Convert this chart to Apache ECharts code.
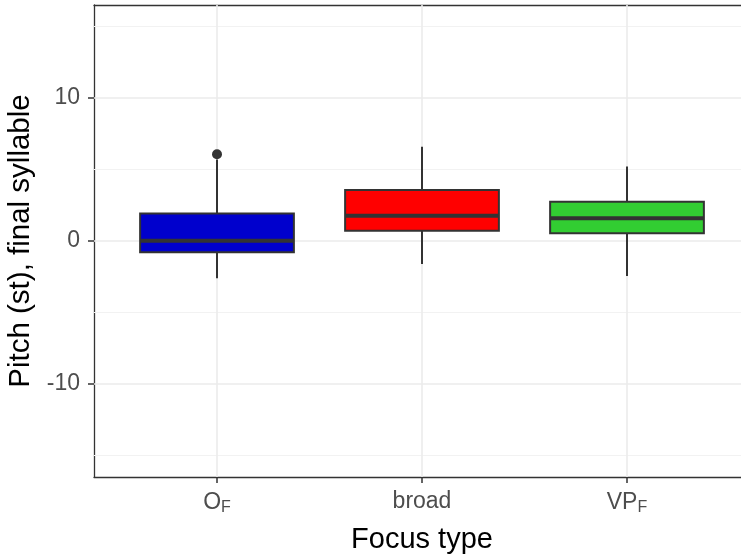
<!DOCTYPE html>
<html>
<head>
<meta charset="utf-8">
<script src="https://cdn.jsdelivr.net/npm/echarts@6/dist/echarts.min.js"></script>
<style>html,body{margin:0;padding:0;background:#fff;}#c{width:741px;height:558px;}</style>
</head>
<body>
<div id="c"></div>
<script>
// ---- data ----
const categories = ['O_F', 'broad', 'VP_F'];
const whiskerLow = [-2.6, -1.6, -2.45];
const q1 = [-0.79, 0.72, 0.54];
const median = [0.02, 1.77, 1.59];
const q3 = [1.92, 3.57, 2.75];
const whiskerHigh = [5.7, 6.59, 5.2];
const boxColors = ['#0000cd', '#ff0000', '#32cd32'];
const outliers = [[1, 6.06]];
const yTicks = [-10, 0, 10];
const yMinor = [-15, -5, 5, 15];
const xTicks = [1, 2, 3];

const boxData = categories.map((c, i) => [i + 1, whiskerLow[i], q1[i], median[i], q3[i], whiskerHigh[i], i]);

const FONT = 'Liberation Sans';
const labelRich = {
  n: { fontSize: 23, color: '#4d4d4d', fontFamily: FONT },
  s: { fontSize: 16, color: '#4d4d4d', fontFamily: FONT, verticalAlign: 'bottom', padding: [10, 0, 0, 0] }
};
function fmtCat(v) {
  const name = categories[Math.round(v) - 1];
  if (!name) return '';
  const parts = name.split('_');
  if (parts.length === 2) return '{n|' + parts[0] + '}{s|' + parts[1] + '}';
  return '{n|' + name + '}';
}

const axisLineStyle = { color: '#333', width: 1.3 };
const chart = echarts.init(document.getElementById('c'), null, { renderer: 'canvas' });
chart.setOption({
  animation: false,
  backgroundColor: '#fff',
  grid: { left: 94, top: 5, width: 656, height: 472, show: false, outerBoundsMode: 'none', containLabel: false },
  xAxis: [{
    type: 'value', min: 0.4, max: 3.6, position: 'bottom',
    name: 'Focus type', nameLocation: 'middle', nameGap: 48,
    nameTextStyle: { fontSize: 29, color: '#000', fontFamily: FONT },
    axisLine: { show: true, onZero: false, lineStyle: axisLineStyle },
    splitLine: { show: false },
    axisTick: { show: true, customValues: xTicks, length: 6, lineStyle: { color: '#333', width: 1.5 } },
    axisLabel: { customValues: xTicks, formatter: fmtCat, rich: labelRich, margin: 13 }
  }, {
    type: 'value', min: 0.4, max: 3.6, position: 'top',
    axisLine: { show: true, onZero: false, lineStyle: axisLineStyle },
    axisTick: { show: false }, axisLabel: { show: false }, splitLine: { show: false }
  }],
  yAxis: {
    type: 'value', min: -16.5, max: 16.5,
    name: 'Pitch (st), final syllable', nameLocation: 'middle', nameGap: 54,
    nameTextStyle: { fontSize: 29.5, color: '#000', fontFamily: FONT },
    axisLine: { show: true, onZero: false, lineStyle: axisLineStyle },
    splitLine: { show: false },
    axisTick: { show: true, customValues: yTicks, length: 6, lineStyle: { color: '#333', width: 1.5 } },
    axisLabel: { customValues: yTicks, fontSize: 23, color: '#4d4d4d', fontFamily: FONT, margin: 14 }
  },
  series: [
    {
      type: 'line', data: [], z: 1, silent: true,
      markLine: {
        z: 1, silent: true, symbol: 'none', animation: false, label: { show: false },
        data: [
          ...yMinor.map(v => ({ yAxis: v, lineStyle: { color: '#f2f2f2', width: 1, type: 'solid' } })),
          ...yTicks.map(v => ({ yAxis: v, lineStyle: { color: '#ebebeb', width: 1.6, type: 'solid' } })),
          ...xTicks.map(v => ({ xAxis: v, lineStyle: { color: '#ebebeb', width: 1.6, type: 'solid' } }))
        ]
      }
    },
    {
      type: 'custom', z: 10,
      data: boxData,
      encode: { x: 0, y: [1, 2, 3, 4, 5] },
      renderItem: function (params, api) {
        const x = api.value(0);
        const lo = api.coord([x, api.value(1)]);
        const b1 = api.coord([x, api.value(2)]);
        const md = api.coord([x, api.value(3)]);
        const b3 = api.coord([x, api.value(4)]);
        const hi = api.coord([x, api.value(5)]);
        const w = api.size([0.75, 0])[0];
        const idx = api.value(6);
        const line = { stroke: '#333', lineWidth: 2 };
        return {
          type: 'group',
          children: [
            { type: 'line', shape: { x1: hi[0], y1: hi[1], x2: b3[0], y2: b3[1] }, style: line },
            { type: 'line', shape: { x1: lo[0], y1: lo[1], x2: b1[0], y2: b1[1] }, style: line },
            { type: 'rect', shape: { x: b3[0] - w / 2, y: b3[1], width: w, height: b1[1] - b3[1] }, style: { fill: boxColors[idx], stroke: '#333', lineWidth: 2 } },
            { type: 'line', shape: { x1: md[0] - w / 2, y1: md[1], x2: md[0] + w / 2, y2: md[1] }, style: { stroke: '#333', lineWidth: 4 } }
          ]
        };
      }
    },
    {
      type: 'scatter', z: 11, data: outliers, symbol: 'circle', symbolSize: 10,
      itemStyle: { color: '#333', opacity: 1 }
    }
  ]
});
</script>
</body>
</html>
